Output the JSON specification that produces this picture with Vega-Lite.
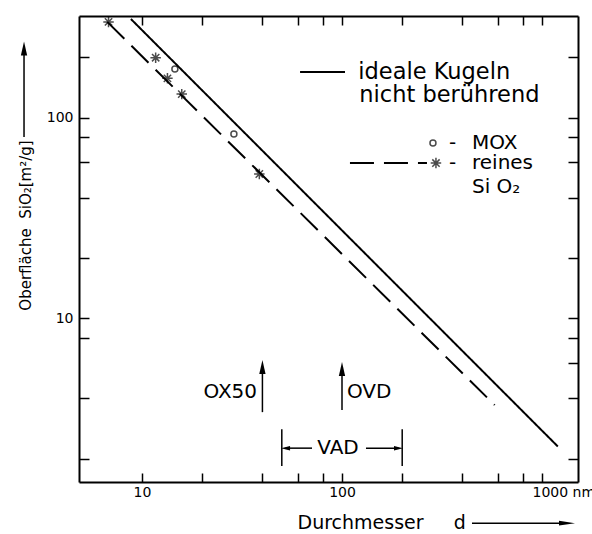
{
  "$schema": "https://vega.github.io/schema/vega-lite/v6.json",
  "width": 499,
  "height": 466,
  "autosize": {"type": "none"},
  "padding": {"left": 79, "top": 16, "right": 14, "bottom": 52},
  "background": "white",
  "config": {
    "view": {"stroke": null},
    "font": "DejaVu Sans",
    "axis": {
      "grid": false,
      "domainColor": "black",
      "domainWidth": 2,
      "tickColor": "black",
      "tickWidth": 1.5,
      "labelColor": "black",
      "labelFont": "DejaVu Sans",
      "labelFontSize": 14,
      "labelFlush": false,
      "labelOverlap": false,
      "labelBound": false,
      "titleColor": "black",
      "titleFont": "DejaVu Sans",
      "titleFontWeight": "normal"
    }
  },
  "datasets": {
    "lines": [
      {"d": 8.8, "S": 310, "series": "ideal"},
      {"d": 1200, "S": 2.3, "series": "ideal"},
      {"d": 6.7, "S": 300, "series": "rein"},
      {"d": 580, "S": 3.7, "series": "rein"}
    ],
    "mox": [
      {"d": 14.6, "S": 175},
      {"d": 28.8, "S": 83}
    ],
    "sio2": [
      {"d": 6.8, "S": 300},
      {"d": 11.7, "S": 199},
      {"d": 13.4, "S": 157},
      {"d": 15.8, "S": 131},
      {"d": 38.6, "S": 52.4}
    ],
    "legendLines": [
      {"x": 61.7, "x2": 103.5, "y": 169, "series": "ideal"},
      {"x": 109.6, "x2": 266, "y": 59.4, "series": "rein"}
    ],
    "legendSymbols": [
      {"x": 285, "y": 74.8, "kind": "MOX"},
      {"x": 295, "y": 59.4, "kind": "rein"}
    ],
    "textsLegend": [
      {"x": 120.6, "y": 169, "label": "ideale Kugeln"},
      {"x": 122, "y": 129.8, "label": "nicht berührend"}
    ],
    "textsLeft": [
      {"x": 446.7, "y": 74.8, "label": "MOX"},
      {"x": 446.7, "y": 59.4, "label": "reines"},
      {"x": 446.7, "y": 45.1, "label": "Si O₂"},
      {"x": 105.9, "y": 4.3, "label": "OVD"}
    ],
    "textsCenter": [
      {"x": 356.9, "y": 74.8, "label": "-"},
      {"x": 356.9, "y": 59.4, "label": "-"},
      {"x": 95.5, "y": 2.256, "label": "VAD"}
    ],
    "textsRight": [
      {"x": 37.6, "y": 4.3, "label": "OX50"}
    ],
    "rules": [
      {"x": 2.57, "x2": 2.57, "y": 80, "y2": 221},
      {"x": 40, "x2": 40, "y": 3.41, "y2": 5.72},
      {"x": 100, "x2": 100, "y": 3.49, "y2": 5.59},
      {"x": 50, "x2": 50, "y": 1.84, "y2": 2.8},
      {"x": 200, "x2": 200, "y": 1.84, "y2": 2.8},
      {"x": 52.2, "x2": 70.8, "y": 2.256, "y2": 2.256},
      {"x": 131.8, "x2": 191.7, "y": 2.256, "y2": 2.256},
      {"x": 446.7, "x2": 1334, "y": 0.954, "y2": 0.954}
    ],
    "heads": [
      {"x": 2.57, "y": 221, "kind": "up"},
      {"x": 40, "y": 5.72, "kind": "up"},
      {"x": 100, "y": 5.59, "kind": "up"},
      {"x": 52.2, "y": 2.256, "kind": "left"},
      {"x": 191.7, "y": 2.256, "kind": "right"},
      {"x": 1334, "y": 0.954, "kind": "axis"}
    ]
  },
  "layer": [
    {
      "data": {"name": "lines"},
      "mark": {"type": "line", "color": "black", "strokeWidth": 2},
      "encoding": {
        "x": {
          "field": "d", "type": "quantitative",
          "scale": {"type": "log", "domain": [4.84, 1514], "nice": false},
          "axis": {
            "orient": "bottom",
            "values": [10, 20, 40, 60, 80, 100, 200, 400, 600, 800, 1000],
            "labelExpr": "datum.value == 10 ? '10' : datum.value == 100 ? '100' : datum.value == 1000 ? '1000 nm' : ''",
            "labelAlign": {"condition": {"test": "datum.value == 1000", "value": "left"}, "value": "center"},
            "labelOffset": {"condition": {"test": "datum.value == 1000", "value": -10}, "value": 0},
            "tickSize": -9,
            "labelPadding": 12,
            "title": "Durchmesser\u00a0\u00a0\u00a0\u00a0\u00a0d",
            "titleFontSize": 19,
            "titleAnchor": "start",
            "titleAlign": "left",
            "titleBaseline": "middle",
            "titleX": 218,
            "titleY": 40
          }
        },
        "y": {
          "field": "S", "type": "quantitative",
          "scale": {"type": "log", "domain": [1.53, 321], "nice": false},
          "axis": {
            "orient": "left",
            "values": [2, 4, 8, 10, 20, 40, 60, 80, 100, 200],
            "labelExpr": "datum.value == 10 ? '10' : datum.value == 100 ? '100' : ''",
            "tickSize": -10,
            "labelPadding": 16,
            "title": "Oberfläche\u00a0\u00a0SiO₂[m²/g]",
            "titleFontSize": 15,
            "titleAngle": -90,
            "titleAlign": "center",
            "titleBaseline": "middle",
            "titleX": -54,
            "titleY": 209
          }
        },
        "detail": {"field": "series", "type": "nominal"},
        "strokeDash": {
          "field": "series", "type": "nominal",
          "scale": {"domain": ["ideal", "rein"], "range": [[1, 0], [24, 10]]},
          "legend": null
        }
      }
    },
    {
      "data": {"name": "lines"},
      "mark": {"type": "point", "opacity": 0},
      "encoding": {
        "x": {
          "field": "d", "type": "quantitative",
          "scale": {"type": "log", "domain": [4.84, 1514], "nice": false},
          "axis": {"orient": "top", "values": [10, 20, 40, 60, 80, 100, 200, 400, 600, 800, 1000], "labels": false, "tickSize": -9, "title": null}
        },
        "y": {
          "field": "S", "type": "quantitative",
          "scale": {"type": "log", "domain": [1.53, 321], "nice": false},
          "axis": {"orient": "right", "values": [2, 4, 6, 8, 10, 20, 40, 60, 80, 100, 200], "labels": false, "tickSize": -10, "title": null}
        }
      }
    },
    {
      "data": {"name": "mox"},
      "mark": {"type": "point", "shape": "circle", "filled": false, "color": "black", "strokeWidth": 1.5, "size": 36},
      "encoding": {
        "x": {"field": "d", "type": "quantitative", "axis": null},
        "y": {"field": "S", "type": "quantitative", "axis": null}
      }
    },
    {
      "data": {"name": "sio2"},
      "mark": {"type": "point", "shape": "M0,-1L0,1M-1,0L1,0M-0.7,-0.7L0.7,0.7M-0.7,0.7L0.7,-0.7", "filled": false, "color": "black", "strokeWidth": 1.5, "size": 110},
      "encoding": {
        "x": {"field": "d", "type": "quantitative", "axis": null},
        "y": {"field": "S", "type": "quantitative", "axis": null}
      }
    },
    {
      "data": {"name": "legendLines"},
      "mark": {"type": "rule", "color": "black", "strokeWidth": 2},
      "encoding": {
        "x": {"field": "x", "type": "quantitative", "axis": null},
        "x2": {"field": "x2"},
        "y": {"field": "y", "type": "quantitative", "axis": null},
        "strokeDash": {
          "field": "series", "type": "nominal",
          "scale": {"domain": ["ideal", "rein"], "range": [[1, 0], [23, 7]]},
          "legend": null
        }
      }
    },
    {
      "data": {"name": "legendSymbols"},
      "transform": [{"filter": "datum.kind == 'MOX'"}],
      "mark": {"type": "point", "shape": "circle", "filled": false, "color": "black", "strokeWidth": 1.5, "size": 36},
      "encoding": {
        "x": {"field": "x", "type": "quantitative", "axis": null},
        "y": {"field": "y", "type": "quantitative", "axis": null}
      }
    },
    {
      "data": {"name": "legendSymbols"},
      "transform": [{"filter": "datum.kind == 'rein'"}],
      "mark": {"type": "point", "shape": "M0,-1L0,1M-1,0L1,0M-0.7,-0.7L0.7,0.7M-0.7,0.7L0.7,-0.7", "filled": false, "color": "black", "strokeWidth": 1.5, "size": 110},
      "encoding": {
        "x": {"field": "x", "type": "quantitative", "axis": null},
        "y": {"field": "y", "type": "quantitative", "axis": null}
      }
    },
    {
      "data": {"name": "textsLegend"},
      "mark": {"type": "text", "align": "left", "baseline": "middle", "fontSize": 22.5, "font": "DejaVu Sans", "color": "black"},
      "encoding": {
        "x": {"field": "x", "type": "quantitative", "axis": null},
        "y": {"field": "y", "type": "quantitative", "axis": null},
        "text": {"field": "label"}
      }
    },
    {
      "data": {"name": "textsLeft"},
      "mark": {"type": "text", "align": "left", "baseline": "middle", "fontSize": 20, "font": "DejaVu Sans", "color": "black"},
      "encoding": {
        "x": {"field": "x", "type": "quantitative", "axis": null},
        "y": {"field": "y", "type": "quantitative", "axis": null},
        "text": {"field": "label"}
      }
    },
    {
      "data": {"name": "textsCenter"},
      "mark": {"type": "text", "align": "center", "baseline": "middle", "fontSize": 20, "font": "DejaVu Sans", "color": "black"},
      "encoding": {
        "x": {"field": "x", "type": "quantitative", "axis": null},
        "y": {"field": "y", "type": "quantitative", "axis": null},
        "text": {"field": "label"}
      }
    },
    {
      "data": {"name": "textsRight"},
      "mark": {"type": "text", "align": "right", "baseline": "middle", "fontSize": 20, "font": "DejaVu Sans", "color": "black"},
      "encoding": {
        "x": {"field": "x", "type": "quantitative", "axis": null},
        "y": {"field": "y", "type": "quantitative", "axis": null},
        "text": {"field": "label"}
      }
    },
    {
      "data": {"name": "rules"},
      "mark": {"type": "rule", "color": "black", "strokeWidth": 1.5},
      "encoding": {
        "x": {"field": "x", "type": "quantitative", "axis": null},
        "x2": {"field": "x2"},
        "y": {"field": "y", "type": "quantitative", "axis": null},
        "y2": {"field": "y2"}
      }
    },
    {
      "data": {"name": "heads"},
      "transform": [{"filter": "datum.kind == 'up'"}],
      "mark": {"type": "point", "shape": "M0,-1L0.45,1L-0.45,1Z", "filled": true, "color": "black", "size": 196, "opacity": 1, "angle": 0},
      "encoding": {
        "x": {"field": "x", "type": "quantitative", "axis": null},
        "y": {"field": "y", "type": "quantitative", "axis": null}
      }
    },
    {
      "data": {"name": "heads"},
      "transform": [{"filter": "datum.kind == 'left'"}],
      "mark": {"type": "point", "shape": "M-1,0L1,-0.5L1,0.5Z", "filled": true, "color": "black", "size": 81, "opacity": 1},
      "encoding": {
        "x": {"field": "x", "type": "quantitative", "axis": null},
        "y": {"field": "y", "type": "quantitative", "axis": null}
      }
    },
    {
      "data": {"name": "heads"},
      "transform": [{"filter": "datum.kind == 'right'"}],
      "mark": {"type": "point", "shape": "M1,0L-1,-0.5L-1,0.5Z", "filled": true, "color": "black", "size": 81, "opacity": 1},
      "encoding": {
        "x": {"field": "x", "type": "quantitative", "axis": null},
        "y": {"field": "y", "type": "quantitative", "axis": null}
      }
    },
    {
      "data": {"name": "heads"},
      "transform": [{"filter": "datum.kind == 'axis'"}],
      "mark": {"type": "point", "shape": "M1,0L-1,-0.3L-1,0.3Z", "filled": true, "color": "black", "size": 256, "opacity": 1},
      "encoding": {
        "x": {"field": "x", "type": "quantitative", "axis": null},
        "y": {"field": "y", "type": "quantitative", "axis": null}
      }
    }
  ],
  "resolve": {"axis": {"x": "independent", "y": "independent"}}
}
